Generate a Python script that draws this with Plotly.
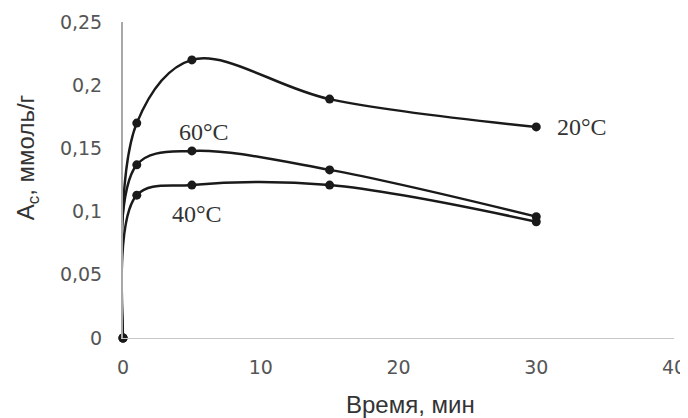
import plotly.graph_objects as go

time_min = [0, 1, 5, 15, 30]
a20 = [0, 0.170, 0.220, 0.189, 0.167]
a60 = [0, 0.137, 0.148, 0.133, 0.096]
a40 = [0, 0.113, 0.121, 0.121, 0.092]

x_ticks = [0, 10, 20, 30, 40]
y_ticks = [0, 0.05, 0.1, 0.15, 0.2, 0.25]
y_tick_text = ["0", "0,05", "0,1", "0,15", "0,2", "0,25"]

labels = ["20°C", "60°C", "40°C"]
label_x = [33.3, 5.9, 5.4]
label_y = [0.167, 0.163, 0.098]

fig = go.Figure()
for ys in (a20, a60, a40):
    fig.add_trace(go.Scatter(
        x=time_min, y=ys, mode="lines+markers",
        line=dict(color="#1a1a1a", width=2.5, shape="spline", smoothing=1.0),
        marker=dict(color="#1a1a1a", size=9),
        showlegend=False, cliponaxis=False))

for t, lx, ly in zip(labels, label_x, label_y):
    fig.add_annotation(x=lx, y=ly, xref="x", yref="y", text=t, showarrow=False,
                       xanchor="center", yanchor="middle",
                       font=dict(family="Liberation Serif", size=24, color="#333333"))

fig.add_annotation(xref="paper", yref="paper", x=-0.172, y=0.573,
                   xanchor="center", yanchor="middle",
                   text="A<sub>c</sub>, ммоль/г", textangle=-90, showarrow=False,
                   font=dict(family="Liberation Sans", size=24, color="#333333"))
fig.add_annotation(xref="paper", yref="paper", x=0.522, y=-0.209,
                   xanchor="center", yanchor="middle",
                   text="Время, мин", showarrow=False,
                   font=dict(family="Liberation Sans", size=24, color="#333333"))

fig.update_xaxes(range=[0, 40], tickvals=x_ticks, ticktext=[str(v) for v in x_ticks],
                 showgrid=False, zeroline=False, showline=True, linecolor="#c8c8c8",
                 linewidth=1, ticks="", ticklabelstandoff=12, automargin=False,
                 tickfont=dict(family="DejaVu Sans", size=19, color="#555555"))
fig.update_yaxes(range=[0, 0.25], tickvals=y_ticks, ticktext=y_tick_text,
                 showgrid=False, zeroline=False, showline=True, linecolor="#a8a8a8",
                 linewidth=2, ticks="", ticklabelstandoff=15, automargin=False,
                 tickfont=dict(family="DejaVu Sans", size=19, color="#555555"))

fig.update_layout(width=680, height=410, margin=dict(l=115, r=14, t=14, b=80),
                  plot_bgcolor="white", paper_bgcolor="white")

fig.write_html("out.html")
